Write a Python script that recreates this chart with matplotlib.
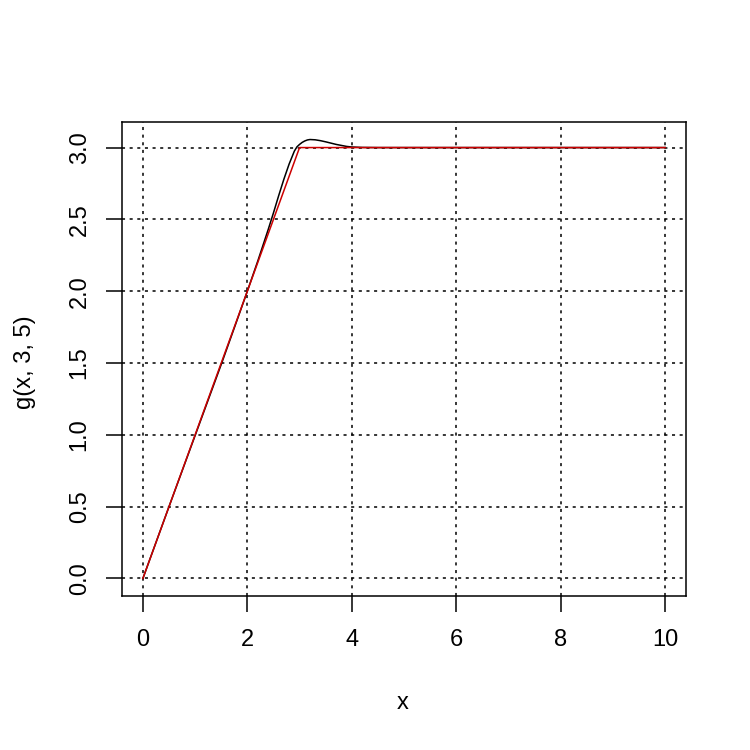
import matplotlib
matplotlib.use("Agg")
import matplotlib.pyplot as plt

plt.rcParams['font.family'] = ['Liberation Sans', 'DejaVu Sans']

# black curve: g(x, 3, 5)
x_g = [0, 0.5, 1.0, 1.5, 1.8, 2.0, 2.2, 2.4, 2.5, 2.6, 2.7, 2.8, 2.9, 2.95, 3.0, 3.05, 3.1,
       3.15, 3.2, 3.3, 3.4, 3.5, 3.6, 3.7, 3.8, 3.9, 4.0, 4.2, 4.5, 5, 6, 7, 8, 9, 10]
y_g = [0, 0.5, 0.995, 1.49, 1.795, 2.0, 2.21, 2.43, 2.545, 2.665, 2.78, 2.885, 2.975, 3.005, 3.022,
       3.036, 3.046, 3.053, 3.056, 3.054, 3.048, 3.04, 3.031, 3.022, 3.015, 3.008, 3.004, 3.001,
       3.0, 3.0, 3.0, 3.0, 3.0, 3.0, 3.0]

# red reference: min(x, 3)
x_r = [0, 3, 10]
y_r = [0, 3, 3]

x_ticks = [0, 2, 4, 6, 8, 10]
y_ticks = [0.0, 0.5, 1.0, 1.5, 2.0, 2.5, 3.0]
y_labels = ["0.0", "0.5", "1.0", "1.5", "2.0", "2.5", "3.0"]

W = H = 750
fig = plt.figure(figsize=(7.5, 7.5), dpi=100)
L, R, T, B = 122, 686, 122, 596
ax = fig.add_axes([L/W, 1 - B/H, (R-L)/W, (B-T)/H])

lw = 1.1
ax.plot(x_g, y_g, color='black', lw=lw, zorder=3)
ax.plot(x_r, y_r, color='#cc0000', lw=lw, zorder=4)

ax.set_xlim(-0.4, 10.4)
ax.set_ylim(-0.122, 3.178)

ax.set_xticks(x_ticks)
ax.set_xticklabels([str(v) for v in x_ticks])
ax.set_yticks(y_ticks)
ax.set_yticklabels(y_labels, rotation=90, va='center')

for xv in x_ticks:
    ax.axvline(xv, color='black', lw=1.1, linestyle=(0, (2.0, 3.0)), zorder=1)
for yv in y_ticks:
    ax.axhline(yv, color='black', lw=1.1, linestyle=(0, (2.0, 3.0)), zorder=1)

fs = 17
ax.tick_params(axis='both', direction='out', length=11.5, width=lw, labelsize=fs, color='black')
ax.tick_params(axis='x', pad=12)
ax.tick_params(axis='y', pad=11)
for s in ax.spines.values():
    s.set_linewidth(lw)

ax.set_xlabel('x', fontsize=fs)
ax.set_ylabel('g(x, 3, 5)', fontsize=fs)
ax.xaxis.set_label_coords((403 - L)/(R - L), (B - 703)/(B - T))
ax.xaxis.label.set_va('center')
ax.yaxis.set_label_coords((25 - L)/(R - L), (B - 362)/(B - T))
ax.yaxis.label.set_va('center')

fig.savefig('out.png', dpi=100)
